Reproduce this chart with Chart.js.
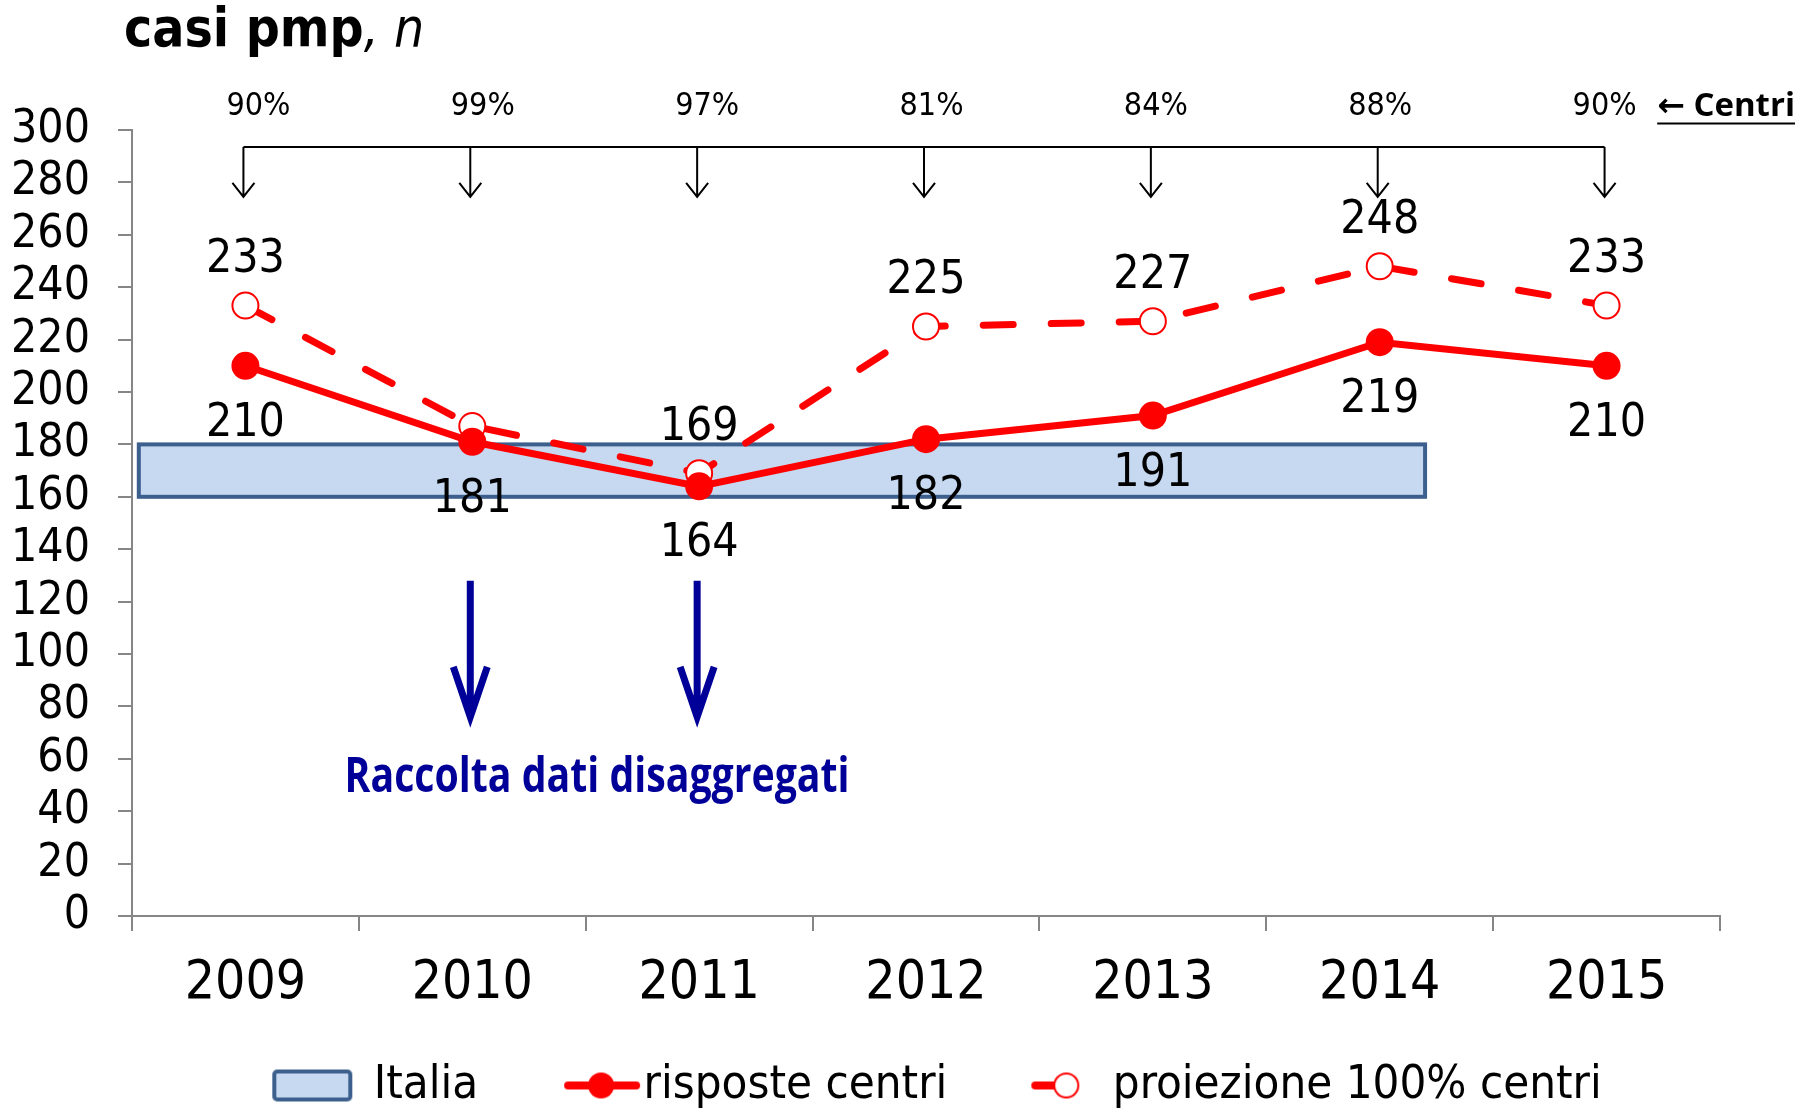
<!DOCTYPE html>
<html>
<head>
<meta charset="utf-8">
<script src="https://cdn.jsdelivr.net/npm/chart.js@4"></script>
<style>
  html, body { margin: 0; padding: 0; background: #fff; }
  #wrap { width: 1802px; height: 1109px; }
</style>
</head>
<body>
<div id="wrap"><canvas id="chart" width="1802" height="1109"></canvas></div>
<script>
// data
const years = ['2009', '2010', '2011', '2012', '2013', '2014', '2015'];
const risposte = [210, 181, 164, 182, 191, 219, 210];
const proiezione = [233, 187, 169, 225, 227, 248, 233];
const proiezioneLabelled = [true, false, true, true, true, true, true];
const coverage = ['90%', '99%', '97%', '81%', '84%', '88%', '90%'];
const italiaRange = [160, 180];
const yMin = 0, yMax = 300, yStep = 20;

const RED = '#FF0000';
const NAVY = '#000099';
const GREY = '#868686';
const NUM = "'DejaVu Sans Condensed', 'DejaVu Sans', sans-serif";

// pixel position of a fractional category index
function xAt(xs, idx) {
  const a = xs.getPixelForValue(0), b = xs.getPixelForValue(1);
  return a + (b - a) * idx;
}

function arrowDown(ctx, x, y0, y1, hw, hh) {
  ctx.beginPath();
  ctx.moveTo(x, y0);
  ctx.lineTo(x, y1);
  ctx.moveTo(x - hw, y1 - hh);
  ctx.lineTo(x, y1);
  ctx.lineTo(x + hw, y1 - hh);
  ctx.stroke();
}

// legend symbols, drawn on small canvases
function symbol(draw) {
  const c = document.createElement('canvas');
  c.width = 200; c.height = 44;
  draw(c.getContext('2d'));
  return c;
}
const italiaSym = symbol(g => {
  g.fillStyle = '#C6D9F1';
  g.strokeStyle = '#3C5F8D';
  g.lineWidth = 4;
  g.beginPath();
  g.roundRect(74, 8, 76, 28, 3);
  g.fill();
  g.stroke();
});
const rispSym = symbol(g => {
  g.strokeStyle = RED; g.fillStyle = RED;
  g.lineWidth = 8; g.lineCap = 'round';
  g.beginPath(); g.moveTo(98, 22); g.lineTo(166, 22); g.stroke();
  g.beginPath(); g.arc(131, 22, 13, 0, Math.PI * 2); g.fill();
});
const proiSym = symbol(g => {
  g.strokeStyle = RED;
  g.lineWidth = 8; g.lineCap = 'round';
  g.beginPath(); g.moveTo(96, 22); g.lineTo(120, 22); g.stroke();
  g.fillStyle = '#fff'; g.lineWidth = 2;
  g.beginPath(); g.arc(127, 22, 12, 0, Math.PI * 2); g.fill(); g.stroke();
});

const overlay = {
  id: 'overlay',
  afterLayout(chart) {
    // legend sits a bit right of centre in the original
    chart.legend.left += 60;
    chart.legend.right += 60;
  },
  beforeDatasetsDraw(chart) {
    const {ctx, scales: {x: xs, y: ys}} = chart;
    const x0 = xAt(xs, -0.47), x1 = xAt(xs, 5.2);
    const yt = ys.getPixelForValue(italiaRange[1]), yb = ys.getPixelForValue(italiaRange[0]);
    ctx.save();
    ctx.fillStyle = '#C6D9F1';
    ctx.fillRect(x0, yt, x1 - x0, yb - yt);
    ctx.strokeStyle = '#3C5F8D';
    ctx.lineWidth = 4;
    ctx.strokeRect(x0, yt, x1 - x0, yb - yt);
    ctx.restore();
  },
  afterDatasetsDraw(chart) {
    const {ctx, scales: {x: xs, y: ys}} = chart;
    ctx.save();
    ctx.fillStyle = '#000';
    ctx.font = '46px ' + NUM;
    ctx.textAlign = 'center';
    ctx.textBaseline = 'middle';
    years.forEach((_, i) => {
      const cx = xs.getPixelForValue(i);
      if (proiezioneLabelled[i]) {
        ctx.fillText(String(proiezione[i]), cx, ys.getPixelForValue(proiezione[i]) - 45);
      }
      ctx.fillText(String(risposte[i]), cx, ys.getPixelForValue(risposte[i]) + 58);
    });
    ctx.restore();
  },
  afterDraw(chart) {
    const {ctx, scales: {x: xs, y: ys}} = chart;
    ctx.save();

    // title
    ctx.fillStyle = '#000';
    ctx.textBaseline = 'alphabetic';
    ctx.textAlign = 'left';
    ctx.font = 'bold 53px ' + NUM;
    ctx.fillText('casi pmp', 124, 46);
    const w = ctx.measureText('casi pmp').width;
    ctx.font = 'italic 53px ' + NUM;
    ctx.fillText(', n', 124 + w, 46);

    // coverage bracket at the top
    ctx.strokeStyle = '#000';
    ctx.lineWidth = 2;
    const yBar = ys.getPixelForValue(293.5);
    const yTip = ys.getPixelForValue(274.5);
    ctx.beginPath();
    ctx.moveTo(xs.getPixelForValue(0) - 2, yBar);
    ctx.lineTo(xs.getPixelForValue(years.length - 1) - 2, yBar);
    ctx.stroke();
    ctx.font = '32px ' + NUM;
    ctx.textAlign = 'center';
    ctx.textBaseline = 'middle';
    const yPct = ys.getPixelForValue(309);
    years.forEach((_, i) => {
      const cx = xs.getPixelForValue(i) - 2;
      arrowDown(ctx, cx, yBar, yTip, 11, 14);
      ctx.fillText(coverage[i], cx + 15 - i * 2.5, yPct);
    });

    // "<- Centri"
    ctx.font = "bold 33px 'Open Sans', 'DejaVu Sans', sans-serif";
    ctx.textAlign = 'right';
    ctx.fillText('\u2190 Centri', 1795, yPct);
    const cw = ctx.measureText('\u2190 Centri').width;
    ctx.beginPath();
    ctx.moveTo(1795 - cw, yPct + 17);
    ctx.lineTo(1795, yPct + 17);
    ctx.stroke();

    // disaggregated data collection
    ctx.strokeStyle = NAVY;
    ctx.lineWidth = 7;
    [1, 2].forEach(i => {
      const cx = xs.getPixelForValue(i) - 2;
      arrowDown(ctx, cx, ys.getPixelForValue(128), ys.getPixelForValue(76), 17, 50);
    });
    ctx.fillStyle = NAVY;
    ctx.font = "bold 48px 'Open Sans', sans-serif";
    const txt = 'Raccolta dati disaggregati';
    const tw = ctx.measureText(txt).width;
    ctx.translate(xAt(xs, 1.55), ys.getPixelForValue(52.5));
    ctx.scale(505 / tw, 1);
    ctx.textAlign = 'center';
    ctx.fillText(txt, 0, 0);
    ctx.restore();
  }
};

new Chart(document.getElementById('chart'), {
  type: 'line',
  data: {
    labels: years,
    datasets: [
      {
        label: 'risposte centri',
        data: risposte,
        borderColor: RED,
        backgroundColor: RED,
        borderWidth: 7,
        pointRadius: 14,
        pointBorderWidth: 0,
        pointBackgroundColor: RED,
        tension: 0
      },
      {
        label: 'proiezione 100% centri',
        data: proiezione,
        borderColor: RED,
        backgroundColor: '#fff',
        borderWidth: 7,
        borderDash: [30, 38],
        borderCapStyle: 'round',
        pointRadius: 13,
        pointBorderWidth: 2,
        pointBorderColor: RED,
        pointBackgroundColor: '#fff',
        tension: 0
      }
    ]
  },
  options: {
    responsive: false,
    animation: false,
    events: [],
    layout: { padding: { top: 130, left: 12, right: 82, bottom: 0 } },
    scales: {
      x: {
        offset: true,
        grid: { display: true, offset: true, drawOnChartArea: false, tickLength: 15, color: GREY, lineWidth: 2 },
        border: { color: GREY, width: 2 },
        ticks: { color: '#000', font: { family: NUM, size: 53 }, padding: 21 },
        afterFit: s => { s.height = 104; }
      },
      y: {
        min: yMin,
        max: yMax,
        grid: { display: true, drawOnChartArea: false, tickLength: 14, color: GREY, lineWidth: 2 },
        border: { color: GREY, width: 2 },
        ticks: { stepSize: yStep, autoSkip: false, color: '#000', font: { family: NUM, size: 46 }, padding: 28 },
        afterFit: s => { s.width = 120; }
      }
    },
    plugins: {
      tooltip: { enabled: false },
      legend: {
        position: 'bottom',
        maxHeight: 89,
        labels: {
          usePointStyle: true,
          pointStyleWidth: 100,
          padding: 42,
          color: '#000',
          font: { family: NUM, size: 47 },
          generateLabels: () => [
            { text: 'Italia', pointStyle: italiaSym, fontColor: '#000', hidden: false, lineWidth: 0 },
            { text: 'risposte centri', pointStyle: rispSym, fontColor: '#000', hidden: false, lineWidth: 0, datasetIndex: 0 },
            { text: 'proiezione 100% centri', pointStyle: proiSym, fontColor: '#000', hidden: false, lineWidth: 0, datasetIndex: 1 }
          ]
        }
      }
    }
  },
  plugins: [overlay]
});
</script>
</body>
</html>
